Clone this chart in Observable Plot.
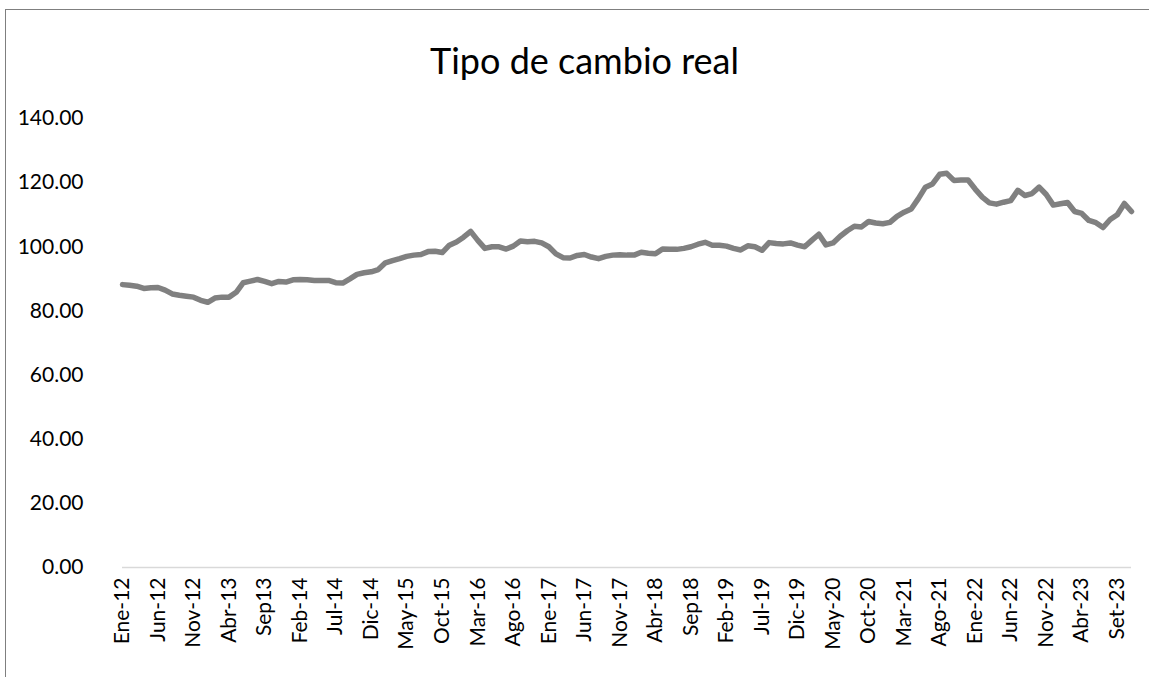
<!DOCTYPE html>
<html>
<head>
<meta charset="utf-8">
<script src="https://cdn.jsdelivr.net/npm/d3@7"></script>
<script src="https://cdn.jsdelivr.net/npm/@observablehq/plot@0.6"></script>
<style>
  html, body { margin: 0; padding: 0; background: #fff; }
  #frame { position: absolute; left: 5px; top: 9px; width: 1200px; height: 720px;
           border-left: 1.5px solid #7f7f7f; border-top: 1.5px solid #7f7f7f; }
  #wrap { position: absolute; left: 0; top: 0; width: 1149px; }
  #title { height: 100px; box-sizing: border-box; padding-top: 42px; text-align: center;
           font-family: Lato, sans-serif; font-size: 36px; color: #000; line-height: 1; padding-left: 20px; }
</style>
</head>
<body>
<div id="frame"></div>
<div id="wrap">
  <div id="title">Tipo de cambio real</div>
  <div id="chart"></div>
</div>
<script>
// Monthly real exchange rate index, Ene-12 .. Nov-23
const months = ["Ene","Feb","Mar","Abr","May","Jun","Jul","Ago","Sep","Oct","Nov","Dic"];
const values = [
  88.2, 88.0, 87.7, 87.0, 87.2, 87.3, 86.5, 85.3, 84.9, 84.6, 84.3, 83.3,
  82.7, 84.0, 84.3, 84.3, 85.8, 88.8, 89.3, 89.8, 89.2, 88.5, 89.2, 89.0,
  89.7, 89.8, 89.7, 89.5, 89.5, 89.5, 88.8, 88.7, 90.0, 91.4, 91.9, 92.2,
  92.9, 95.0, 95.7, 96.3, 97.0, 97.4, 97.6, 98.5, 98.6, 98.2, 100.5, 101.5,
  103.0, 104.8, 102.0, 99.5, 100.0, 100.0, 99.3, 100.2, 101.8, 101.6, 101.7, 101.2,
  100.0, 97.8, 96.6, 96.5, 97.3, 97.6, 96.8, 96.3, 97.0, 97.4, 97.5, 97.4,
  97.4, 98.3, 98.0, 97.8, 99.3, 99.2, 99.2, 99.5, 100.0, 100.8, 101.4, 100.5,
  100.5, 100.2, 99.5, 99.0, 100.3, 100.0, 98.9, 101.3, 101.0, 100.9, 101.2, 100.5,
  100.0, 102.0, 103.9, 100.6, 101.2, 103.3, 105.0, 106.4, 106.2, 107.9, 107.4, 107.2,
  107.6, 109.5, 110.8, 111.8, 115.0, 118.6, 119.6, 122.6, 122.9, 120.7, 120.8, 120.8,
  118.0, 115.5, 113.7, 113.3, 113.9, 114.4, 117.6, 116.0, 116.6, 118.6, 116.3, 113.0,
  113.4, 113.8, 111.0, 110.4, 108.2, 107.5, 106.0, 108.5, 110.0, 113.5, 111.0
];
const tickIdx = [0,5,10,15,20,25,30,35,40,45,50,55,60,65,70,75,80,85,90,95,100,105,110,115,120,125,130,135,140];
const tickLabels = ["Ene-12","Jun-12","Nov-12","Abr-13","Sep13","Feb-14","Jul-14","Dic-14","May-15","Oct-15",
  "Mar-16","Ago-16","Ene-17","Jun-17","Nov-17","Abr-18","Sep18","Feb-19","Jul-19","Dic-19",
  "May-20","Oct-20","Mar-21","Ago-21","Ene-22","Jun-22","Nov-22","Abr-23","Set-23"];
const yTicks = [0,20,40,60,80,100,120,140];

const data = values.map((v, i) => ({i, v}));
const labelOf = new Map(tickIdx.map((t, k) => [t, tickLabels[k]]));

const chart = Plot.plot({
  width: 1149,
  height: 577,
  marginTop: 18,
  marginBottom: 110,
  marginLeft: 122,
  marginRight: 18,
  style: {fontFamily: "Lato, sans-serif", fontSize: "21px", color: "#000", background: "transparent"},
  x: {domain: [0, 142], ticks: tickIdx, tickFormat: d => labelOf.get(d), tickRotate: -90, tickSize: 0, tickPadding: 10, label: null},
  y: {domain: [0, 140], ticks: yTicks, tickFormat: d => d.toFixed(2), tickSize: 0, tickPadding: 39, label: null},
  marks: [
    Plot.ruleY([0], {stroke: "#d9d9d9", strokeWidth: 1.5}),
    Plot.line(data, {x: "i", y: "v", stroke: "#808080", strokeWidth: 5.5, strokeLinejoin: "round", strokeLinecap: "round"})
  ]
});
document.getElementById("chart").appendChild(chart);
</script>
</body>
</html>
